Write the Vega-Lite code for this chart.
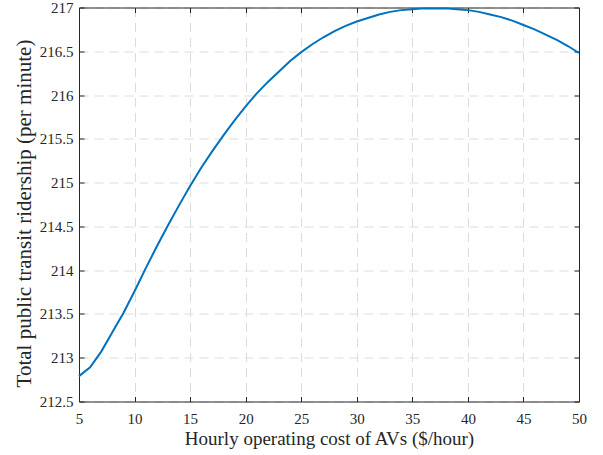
{
  "$schema": "https://vega.github.io/schema/vega-lite/v6.json",
  "width": 500,
  "height": 394,
  "autosize": {"type": "none"},
  "padding": {"left": 79, "top": 7.5, "right": 24, "bottom": 53.5},
  "background": "white",
  "config": {
    "view": {"stroke": null},
    "font": "Liberation Serif",
    "axis": {
      "domainColor": "#262626",
      "tickColor": "#262626",
      "labelColor": "#262626",
      "titleColor": "#262626",
      "labelFont": "Liberation Serif",
      "titleFont": "Liberation Serif",
      "labelFontSize": 15,
      "titleFontSize": 19,
      "titleFontWeight": "normal",
      "labelFlush": false,
      "labelOverlap": false,
      "tickSize": -5,
      "gridColor": "#dcdcdc",
      "gridDash": [9, 6],
      "gridWidth": 1
    }
  },
  "data": {
    "values": [
      {"cost": 5, "ridership": 212.79},
      {"cost": 6, "ridership": 212.89},
      {"cost": 7, "ridership": 213.07},
      {"cost": 8, "ridership": 213.29},
      {"cost": 9, "ridership": 213.51},
      {"cost": 10, "ridership": 213.76},
      {"cost": 11, "ridership": 214.02},
      {"cost": 12, "ridership": 214.27},
      {"cost": 13, "ridership": 214.51},
      {"cost": 14, "ridership": 214.74},
      {"cost": 15, "ridership": 214.96},
      {"cost": 16, "ridership": 215.17},
      {"cost": 17, "ridership": 215.36},
      {"cost": 18, "ridership": 215.54},
      {"cost": 19, "ridership": 215.71},
      {"cost": 20, "ridership": 215.87},
      {"cost": 21, "ridership": 216.02},
      {"cost": 22, "ridership": 216.15},
      {"cost": 23, "ridership": 216.27},
      {"cost": 24, "ridership": 216.39},
      {"cost": 25, "ridership": 216.49},
      {"cost": 26, "ridership": 216.58},
      {"cost": 27, "ridership": 216.66},
      {"cost": 28, "ridership": 216.73},
      {"cost": 29, "ridership": 216.79},
      {"cost": 30, "ridership": 216.84},
      {"cost": 31, "ridership": 216.88},
      {"cost": 32, "ridership": 216.92},
      {"cost": 33, "ridership": 216.95},
      {"cost": 34, "ridership": 216.97},
      {"cost": 35, "ridership": 216.98},
      {"cost": 36, "ridership": 216.99},
      {"cost": 37, "ridership": 216.99},
      {"cost": 38, "ridership": 216.99},
      {"cost": 39, "ridership": 216.98},
      {"cost": 40, "ridership": 216.97},
      {"cost": 41, "ridership": 216.95},
      {"cost": 42, "ridership": 216.92},
      {"cost": 43, "ridership": 216.89},
      {"cost": 44, "ridership": 216.85},
      {"cost": 45, "ridership": 216.80},
      {"cost": 46, "ridership": 216.75},
      {"cost": 47, "ridership": 216.69},
      {"cost": 48, "ridership": 216.63},
      {"cost": 49, "ridership": 216.56},
      {"cost": 50, "ridership": 216.48}
    ]
  },
  "layer": [
    {
      "mark": {"type": "line", "opacity": 0},
      "encoding": {
        "x": {
          "field": "cost", "type": "quantitative",
          "scale": {"domain": [5, 50], "nice": false, "zero": false},
          "axis": {"orient": "top", "labels": false, "title": null, "grid": false,
                   "values": [5, 10, 15, 20, 25, 30, 35, 40, 45, 50]}
        },
        "y": {
          "field": "ridership", "type": "quantitative",
          "scale": {"domain": [212.5, 217], "nice": false, "zero": false},
          "axis": {"orient": "right", "labels": false, "title": null, "grid": false,
                   "values": [212.5, 213, 213.5, 214, 214.5, 215, 215.5, 216, 216.5, 217]}
        }
      }
    },
    {
      "mark": {"type": "line", "color": "#0072BD", "strokeWidth": 2},
      "encoding": {
        "x": {
          "field": "cost", "type": "quantitative",
          "scale": {"domain": [5, 50], "nice": false, "zero": false},
          "axis": {"orient": "bottom", "grid": true, "format": "~g",
                   "title": "Hourly operating cost of AVs ($/hour)",
                   "labelPadding": 14.5, "titlePadding": 3,
                   "values": [5, 10, 15, 20, 25, 30, 35, 40, 45, 50]}
        },
        "y": {
          "field": "ridership", "type": "quantitative",
          "scale": {"domain": [212.5, 217], "nice": false, "zero": false},
          "axis": {"orient": "left", "grid": true, "format": "~g",
                   "title": "Total public transit ridership (per minute)",
                   "titleFontSize": 21,
                   "titleY": 205.5,
                   "labelPadding": 11, "titlePadding": 5,
                   "values": [212.5, 213, 213.5, 214, 214.5, 215, 215.5, 216, 216.5, 217]}
        }
      }
    }
  ]
}
